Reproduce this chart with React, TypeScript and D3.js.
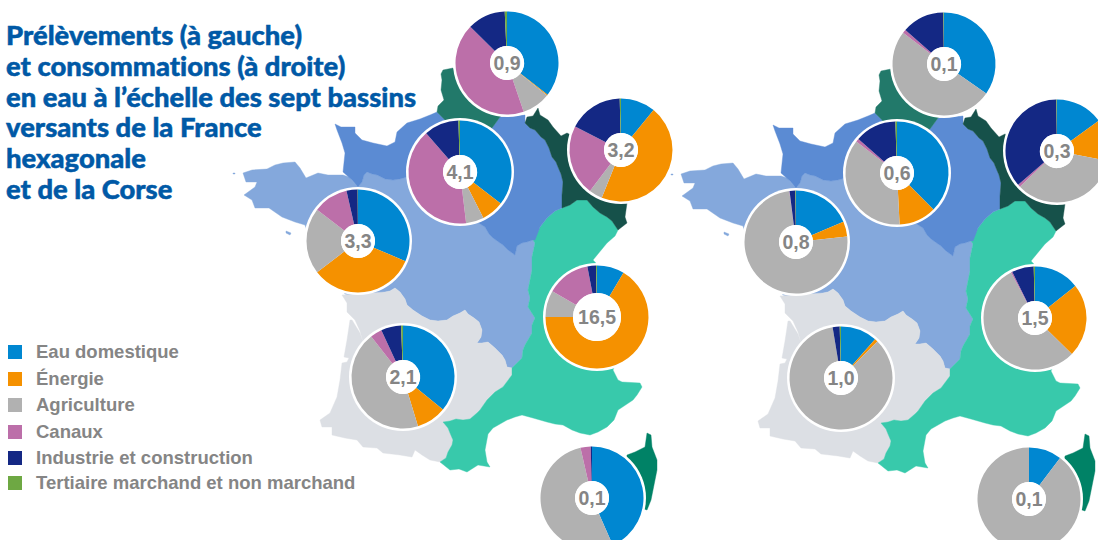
import React from "react";
import * as d3 from "d3";

type Pt = [number, number];

const categories = [
  "Eau domestique",
  "Énergie",
  "Agriculture",
  "Canaux",
  "Industrie et construction",
  "Tertiaire marchand et non marchand",
];
const colors = ["#0087d1", "#f59100", "#b1b1b1", "#bc6fa9", "#142884", "#6ea843"];

const titleLines = [
  "Prélèvements (à gauche)",
  "et consommations (à droite)",
  "en eau à l’échelle des sept bassins",
  "versants de la France",
  "hexagonale",
  "et de la Corse",
];

// shares per basin, same order as categories
const artoisWithdrawal = [35.5, 0.3, 8.9, 42.6, 11.9, 0.7];
const seineWithdrawal = [35.5, 7, 5.6, 40.5, 10.9, 0.5];
const rhinWithdrawal = [10.9, 45.2, 4.2, 22.2, 17.1, 0.4];
const loireWithdrawal = [31.4, 33.2, 20.8, 11, 3.5, 0.1];
const rhoneWithdrawal = [8.6, 66.4, 8.3, 13.7, 2.7, 0.3];
const adourWithdrawal = [35.9, 9.4, 44.1, 3.7, 6.3, 0.6];
const corseWithdrawal = [43.4, 0, 53, 3.2, 0.4, 0];

const artoisUse = [34.7, 0, 50.7, 1.1, 13.3, 0.2];
const seineUse = [37.5, 11.7, 36.3, 1, 13, 0.5];
const rhinUse = [15, 13.1, 34.7, 0.8, 36.2, 0.2];
const loireUse = [18.6, 4.7, 74.6, 0.1, 1.8, 0.2];
const rhoneUse = [14.3, 23, 55, 0.4, 6.9, 0.4];
const adourUse = [11.5, 1, 84.9, 0, 2.2, 0.4];
const corseUse = [10.3, 0, 89.7, 0, 0, 0];

// basin outlines (left map, pixels) - shared borders kept apart so they line up
const seineLoire: Pt[] = [
  [358, 187], [362, 182], [364, 175], [367, 172], [372, 174], [377, 175], [385, 179], [393, 180], [400, 179], [407, 177],
  [440, 190], [470, 215], [477, 222], [485, 227], [489, 234], [493, 238], [500, 243], [503, 245], [508, 250], [515, 255],
  [517, 246], [522, 243], [527, 242], [533, 240],
];
const loireRhone: Pt[] = [
  [533, 240], [535, 243], [532, 257], [532, 270], [530, 280], [528, 290], [530, 298], [528, 307], [535, 318], [532, 325],
  [532, 333], [525, 345], [523, 350], [522, 358], [516, 364], [512, 368],
];
const loireAdour: Pt[] = [
  [512, 368], [507, 367], [505, 360], [502, 355], [495, 348], [488, 342], [482, 343], [477, 343], [481, 337], [482, 330],
  [479, 322], [474, 318], [468, 314], [465, 310], [460, 313], [453, 316], [447, 320], [438, 321], [430, 320], [422, 316],
  [413, 310], [407, 305], [405, 299], [400, 292], [395, 288], [390, 291], [385, 292],
];
const adourRhone: Pt[] = [
  [512, 375], [503, 387], [495, 392], [487, 400], [480, 410], [477, 413], [470, 419], [463, 420], [456, 419], [450, 421],
  [443, 422], [448, 428], [450, 433], [453, 440], [452, 445], [448, 452], [446, 458], [440, 462],
];
const seineRhin: Pt[] = [
  [525, 123], [530, 128], [535, 130], [541, 137], [545, 140], [549, 148], [552, 157], [556, 162], [558, 167], [561, 174],
  [563, 182], [562, 195], [562, 208],
];

const loireOutline: Pt[] = [
  [243, 173], [252, 170], [267, 169], [275, 165], [283, 163], [295, 162], [300, 168], [306, 178], [318, 173], [328, 175],
  [343, 175], [349, 177], ...seineLoire, ...loireRhone, ...loireAdour,
  [365, 300], [345, 294], [330, 270], [310, 240], [305, 225], [295, 222], [282, 217], [269, 208], [255, 208], [252, 200],
  [244, 195], [255, 187], [257, 182], [246, 182],
];
const belleIle: Pt[] = [[286, 231], [291, 233], [290, 235], [286, 233]];
const ouessant: Pt[] = [[233, 173], [235, 173], [235, 174], [233, 174]];

const seineOutline: Pt[] = [
  [335, 124], [341, 127], [347, 127], [355, 127], [355, 133], [362, 140], [373, 143], [387, 146], [395, 142], [397, 132],
  [407, 123], [420, 119], [430, 115], [437, 112], [445, 120], [492, 128], [500, 117], [525, 115], ...seineRhin,
  [555, 211], [547, 218], [540, 227], [535, 240], [533, 240], ...seineLoire.slice().reverse(),
  [352, 180], [343, 172], [345, 153], [342, 143], [337, 130],
];

const rhinOutline: Pt[] = [
  ...seineRhin.slice().reverse(), [527, 117], [533, 116], [538, 108], [540, 115], [548, 120], [553, 127], [561, 136], [567, 133],
  [600, 150], [640, 180], [627, 203], [625, 217], [627, 223], [618, 230], [612, 221], [607, 217], [600, 213], [593, 207],
  [587, 200], [577, 200], [570, 205],
];

const artoisOutline: Pt[] = [
  [443, 70], [453, 68], [470, 90], [520, 100], [500, 117], [492, 128], [460, 125], [445, 120], [437, 112], [438, 106],
  [444, 100], [441, 90], [442, 80], [441, 74],
];

const adourOutline: Pt[] = [
  [342, 295], [347, 303], [347, 312], [355, 320], [360, 331], [364, 345], [360, 333], [352, 320], [350, 320], [347, 340],
  [344, 357], [349, 358], [347, 362], [342, 363], [340, 380], [337, 397], [330, 413], [320, 420], [322, 427], [332, 427],
  [332, 435], [345, 438], [357, 440], [363, 447], [377, 448], [383, 453], [400, 455], [412, 457], [415, 450], [422, 455],
  [430, 460], [440, 462], ...adourRhone.slice().reverse(), [512, 368],
  ...loireAdour,
];

const rhoneOutline: Pt[] = [
  [533, 240], [540, 227], [547, 218], [555, 211], [562, 208], [570, 205], [577, 200], [587, 200], [593, 207], [600, 213],
  [607, 217], [612, 221], [618, 230], [615, 236], [607, 243], [593, 260], [640, 310], [613, 370], [618, 380], [622, 382],
  [640, 383], [642, 387], [637, 395], [633, 400], [618, 410], [614, 420], [607, 427], [598, 432], [590, 435], [580, 433],
  [572, 430], [563, 425], [555, 424], [547, 422], [533, 418], [522, 415], [515, 417], [507, 420], [493, 428], [488, 434],
  [485, 450], [487, 462], [490, 467], [478, 465], [467, 472], [459, 469], [450, 470], ...adourRhone.slice().reverse(),
  ...loireRhone.slice().reverse(),
];

const corseOutline: Pt[] = [
  [627, 455], [635, 452], [645, 447], [646, 440], [647, 433], [651, 435], [652, 447], [657, 460], [657, 470], [655, 480],
  [651, 500], [647, 510], [632, 505], [625, 470],
];

const basinShapes: { points: Pt[]; fill: string }[] = [
  { points: loireOutline, fill: "#84a8dc" },
  { points: belleIle, fill: "#84a8dc" },
  { points: ouessant, fill: "#84a8dc" },
  { points: adourOutline, fill: "#dcdfe4" },
  { points: rhoneOutline, fill: "#38c9ab" },
  { points: seineOutline, fill: "#5b8bd3" },
  { points: rhinOutline, fill: "#16514a" },
  { points: artoisOutline, fill: "#22796a" },
  { points: corseOutline, fill: "#008266" },
];

const leftPies = [
  { label: "0,9", x: 507, y: 63, values: artoisWithdrawal },
  { label: "4,1", x: 460, y: 172, values: seineWithdrawal },
  { label: "3,2", x: 621, y: 150, values: rhinWithdrawal },
  { label: "3,3", x: 358, y: 241, values: loireWithdrawal },
  { label: "16,5", x: 597, y: 317, values: rhoneWithdrawal, hole: 24 },
  { label: "2,1", x: 403, y: 377, values: adourWithdrawal },
  { label: "0,1", x: 592, y: 498, values: corseWithdrawal },
];
const rightPies = [
  { label: "0,1", x: 944, y: 64, values: artoisUse },
  { label: "0,6", x: 897, y: 173, values: seineUse },
  { label: "0,3", x: 1057, y: 151, values: rhinUse },
  { label: "0,8", x: 796, y: 242, values: loireUse },
  { label: "1,5", x: 1035, y: 318, values: rhoneUse },
  { label: "1,0", x: 841, y: 378, values: adourUse },
  { label: "0,1", x: 1029, y: 499, values: corseUse },
];

const legendY = [352, 379, 405, 432, 458, 483];
const titleY = [45, 75.6, 106.6, 137, 168, 199];
const outerR = 51.5;
const ringR = 54;
const holeR = 17;

const outlinePath = d3.line<Pt>().curve(d3.curveLinearClosed);
const pieLayout = d3.pie<number>().sort(null).startAngle(0).endAngle(2 * Math.PI);

const Pie = ({ label, x, y, values, hole = holeR }: { label: string; x: number; y: number; values: number[]; hole?: number }) => {
  const arc = d3.arc<d3.PieArcDatum<number>>().innerRadius(hole).outerRadius(outerR);
  return (
    <g transform={`translate(${x},${y})`}>
      <circle r={ringR} fill="#fff" />
      {pieLayout(values).map((s, i) => (
        <path key={i} d={arc(s) ?? ""} fill={colors[i]} />
      ))}
      <circle r={hole} fill="#fff" />
      <text y={7} textAnchor="middle" fontFamily="Liberation Sans" fontWeight={700} fontSize={19.5} fill="#858585">
        {label}
      </text>
    </g>
  );
};

const FranceMap = ({ dx, dy }: { dx: number; dy: number }) => (
  <g transform={`translate(${dx},${dy})`}>
    {basinShapes.map((b, i) => (
      <path key={i} d={outlinePath(b.points) ?? ""} fill={b.fill} stroke={b.fill} strokeWidth={0.4} />
    ))}
  </g>
);

export default function App() {
  return (
    <svg width={1098} height={540} style={{ position: "absolute", left: 0, top: 0, background: "#fff" }}>
      <FranceMap dx={0} dy={0} />
      <FranceMap dx={438} dy={1} />
      {leftPies.map((p, i) => (
        <Pie key={i} {...p} />
      ))}
      {rightPies.map((p, i) => (
        <Pie key={i} {...p} />
      ))}
      {titleLines.map((t, i) => (
        <text
          key={i}
          x={6}
          y={titleY[i]}
          fontFamily="Lato"
          fontWeight={900}
          fontSize={27.4}
          fill="#0059a6"
          stroke="#0059a6"
          strokeWidth={0.5}
          style={{ fontVariantLigatures: "none" }}
        >
          {t}
        </text>
      ))}
      {categories.map((c, i) => (
        <g key={c}>
          <rect x={8} y={legendY[i] - 7} width={14} height={14} fill={colors[i]} />
          <text x={36} y={legendY[i] + 6} fontFamily="Liberation Sans" fontWeight={700} fontSize={18.5} fill="#858585">
            {c}
          </text>
        </g>
      ))}
    </svg>
  );
}
